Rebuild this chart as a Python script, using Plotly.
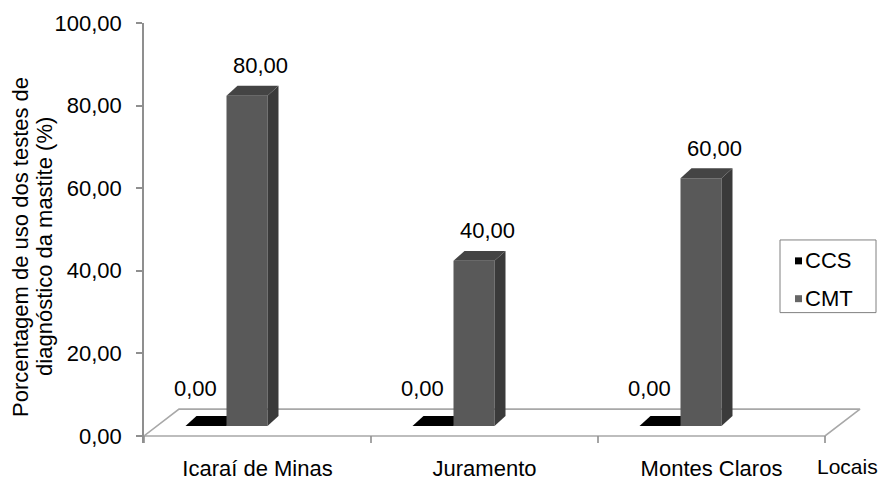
import plotly.graph_objects as go

# ---- data ----
locais = ["Icaraí de Minas", "Juramento", "Montes Claros"]
series_names = ["CCS", "CMT"]
ccs_values = [0.0, 0.0, 0.0]
cmt_values = [80.0, 40.0, 60.0]
y_ticks = [0, 20, 40, 60, 80, 100]
y_title_lines = ["Porcentagem de uso dos testes de", "diagnóstico da mastite (%)"]
x_caption = "Locais"

# ---- 3-D look, expressed in screen pixels and converted to axis units ----
W, H = 880, 481
M_L, M_T, M_B = 144, 23, 36
PLOT_W = W - M_L
PLOT_H = H - M_T - M_B
PX_PER_CAT = 227.0      # pixels per category on the x axis
PX_PER_UNIT = 4.15      # pixels per percentage point on the y axis
X_MIN = -0.5
X_MAX = X_MIN + PLOT_W / PX_PER_CAT
Y_MIN, Y_MAX = -1.7, 100.0

def ux(p):
    return p / PX_PER_CAT

def uy(p):
    return p / PX_PER_UNIT

def paper_x(px):
    return (px - M_L) / PLOT_W

def paper_y(py):
    return (H - M_B - py) / PLOT_H

FLOOR_DX, FLOOR_DY = ux(35), uy(27)
BAR_BASE = uy(10)                  # front plane of the bars sits behind the floor edge
BAR_W = ux(41)
BAR_DX, BAR_DY = ux(11), uy(10)

styles = {
    "CCS": dict(offset=ux(-72), front="#000000", side="#000000", top="#000000",
                legend="#000000", lab_dx=-16, lab_dy=28),
    "CMT": dict(offset=ux(-31), front="#595959", side="#3a3a3a", top="#444444",
                legend="#666666", lab_dx=8, lab_dy=20),
}

FONT = "Liberation Sans, Arial, sans-serif"
FS = 22
AXIS_GREY = "#8f8f8f"
FLOOR_GREY = "#a8a8a8"

fig = go.Figure()

def poly(xs, ys, color, lw=0, line_color=None):
    fig.add_trace(go.Scatter(
        x=xs + [xs[0]], y=ys + [ys[0]], mode="lines",
        fill="toself", fillcolor=color,
        line=dict(width=lw, color=line_color or color),
        hoverinfo="skip", showlegend=False))

# floor
n = len(locais)
fx0, fx1 = -0.5, n - 0.5
poly([fx0, fx1, fx1 + FLOOR_DX, fx0 + FLOOR_DX],
     [0, 0, FLOOR_DY, FLOOR_DY], "white", lw=1.6, line_color=FLOOR_GREY)

# category boundary ticks below the floor edge
tx, ty = [], []
for b in range(n + 1):
    tx += [b - 0.5, b - 0.5, None]
    ty += [0, Y_MIN, None]
fig.add_trace(go.Scatter(x=tx, y=ty, mode="lines",
                         line=dict(color=AXIS_GREY, width=1.6),
                         hoverinfo="skip", showlegend=False))

# bars
annotations = []
for i in range(n):
    for name, values in (("CCS", ccs_values), ("CMT", cmt_values)):
        st = styles[name]
        v = values[i]
        x0 = i + st["offset"]
        x1 = x0 + BAR_W
        yb = BAR_BASE
        yt = BAR_BASE + v
        if v > 0:
            poly([x0, x1, x1, x0], [yb, yb, yt, yt], st["front"])
            poly([x1, x1 + BAR_DX, x1 + BAR_DX, x1],
                 [yb, yb + BAR_DY, yt + BAR_DY, yt], st["side"])
        poly([x0, x1, x1 + BAR_DX, x0 + BAR_DX],
             [yt, yt, yt + BAR_DY, yt + BAR_DY], st["top"])
        annotations.append(dict(
            x=(x0 + x1 + BAR_DX) / 2, y=yt + BAR_DY,
            xref="x", yref="y", text=f"{v:.2f}".replace(".", ","),
            showarrow=False, xanchor="center", yanchor="middle",
            xshift=st["lab_dx"], yshift=st["lab_dy"],
            font=dict(family=FONT, size=FS, color="#000000")))

# legend: framed box with a small square swatch per series
shapes = [dict(type="rect", xref="paper", yref="paper",
               x0=paper_x(780), x1=paper_x(876), y0=paper_y(314), y1=paper_y(241),
               line=dict(color="#808080", width=1), fillcolor="white", layer="above")]
for name, row_y in zip(series_names, (262, 300)):
    shapes.append(dict(type="rect", xref="paper", yref="paper",
                       x0=paper_x(795), x1=paper_x(802),
                       y0=paper_y(row_y + 3.5), y1=paper_y(row_y - 3.5),
                       line=dict(width=0), fillcolor=styles[name]["legend"],
                       layer="above"))
    annotations.append(dict(
        text=name, xref="paper", yref="paper", x=paper_x(803), y=paper_y(row_y),
        xanchor="left", yanchor="middle", showarrow=False,
        font=dict(family=FONT, size=FS, color="#000000")))

# y-axis title, one annotation per line, and the x-axis caption
for line, xpx in zip(y_title_lines, (21, 45)):
    annotations.append(dict(
        text=line, xref="paper", yref="paper",
        x=paper_x(xpx), y=paper_y(248),
        xanchor="center", yanchor="middle", textangle=-90, showarrow=False,
        font=dict(family=FONT, size=FS, color="#000000")))
annotations.append(dict(
    text=x_caption, xref="paper", yref="paper", x=paper_x(815),
    y=paper_y(469), xanchor="left", yanchor="middle", showarrow=False,
    font=dict(family=FONT, size=21, color="#000000")))

fig.update_layout(
    width=W, height=H,
    margin=dict(l=M_L, r=0, t=M_T, b=M_B, pad=0),
    paper_bgcolor="white", plot_bgcolor="white",
    separators=",.",
    font=dict(family=FONT, size=FS, color="#000000"),
    showlegend=False,
    annotations=annotations,
    shapes=shapes,
    xaxis=dict(range=[X_MIN, X_MAX], showgrid=False, zeroline=False,
               showline=False, ticks="", tickvals=list(range(n)),
               ticktext=locais, ticklabelstandoff=10,
               tickfont=dict(family=FONT, size=FS, color="#000000")),
    yaxis=dict(range=[Y_MIN, Y_MAX], showgrid=False, zeroline=False,
               showline=True, linecolor=AXIS_GREY, linewidth=1.6,
               ticks="outside", ticklen=6, tickcolor=AXIS_GREY, tickwidth=1.6,
               tickvals=y_ticks, tickformat=".2f", ticklabelstandoff=10,
               tickfont=dict(family=FONT, size=FS, color="#000000")),
)

fig.write_html("out.html")
